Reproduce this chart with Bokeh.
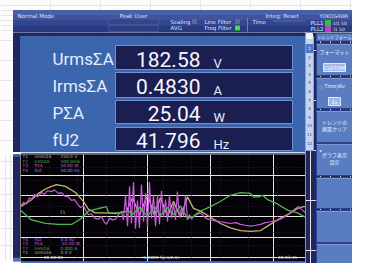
from bokeh.plotting import figure
from bokeh.models import Range1d, FixedTicker, Grid
from bokeh.layouts import row, column
from bokeh.embed import file_html
from bokeh.resources import INLINE
from bokeh.core.properties import value

# ---------------- data ----------------
READ_LABELS = ["UrmsΣA", "IrmsΣA", "PΣA", "fU2"]
READ_VALUES = ["182.58", "0.4830", "25.04", "41.796"]
READ_UNITS = ["V", "A", "W", "Hz"]

TOP_TAGS = ["T1", "T2", "T3", "T4"]
TOP_ITEMS = ["UrmsΣA", "IrmsΣA", "PΣA", "fU2"]
TOP_SCALES = ["250.0 V", "500.0mA", "50.00 W", "50.00 Hz"]
BOT_TAGS = ["T4", "T3", "T2", "T1"]
BOT_ITEMS = ["fU2", "PΣA", "IrmsΣA", "UrmsΣA"]
BOT_SCALES = ["0.0 Hz", "-50.00 W", "0.000 A", "0.0 V"]
TIME_LABELS = ["00:00:00", "<1.0000 Sp:s/2.1>", "00:03:45"]

# trend T1 UrmsΣA (V) vs time (s)
TIME_U = [0, 7.9, 14.2, 19.7, 24.5, 28.4, 35.5, 43.4, 49.7, 53.7, 59.2, 67.1, 75.0, 80.5,
          83.7, 88.4, 93.9, 100.3, 105.8, 110.5, 116.1, 120.8, 126.3, 131.8, 136.6, 142.1,
          150.0, 157.9, 165.8, 173.7, 181.6, 189.5, 195.0, 202.9, 210.8, 218.7, 223.4, 225]
U_VALUES = [124.0, 138.9, 156.0, 166.7, 173.1, 177.4, 173.1, 158.1, 136.8, 117.5, 109.0,
            109.0, 106.9, 111.1, 113.3, 145.3, 104.7, 151.7, 102.6, 145.3, 100.4, 136.8,
            98.3, 147.5, 119.7, 113.3, 98.3, 83.3, 72.7, 66.2, 64.1, 66.2, 76.9, 91.9,
            104.7, 119.7, 124.0, 124.0]

# trend T2 IrmsΣA (A)
TIME_I = [0, 8.7, 19.7, 30.0, 40.3, 47.4, 53.7, 61.6, 67.9, 69.5, 77.4, 85.3, 88.4, 93.9,
          100.3, 105.8, 110.5, 116.1, 120.8, 126.3, 131.8, 136.6, 142.1, 150.0, 157.9,
          165.8, 173.7, 181.6, 183.9, 187.9, 191.1, 195.0, 202.9, 210.8, 218.7, 225]
I_VALUES = [0.231, 0.184, 0.167, 0.162, 0.162, 0.188, 0.227, 0.239, 0.248, 0.218, 0.218,
            0.227, 0.209, 0.244, 0.201, 0.248, 0.205, 0.244, 0.209, 0.252, 0.192, 0.201,
            0.227, 0.248, 0.274, 0.303, 0.316, 0.312, 0.295, 0.295, 0.303, 0.282, 0.261,
            0.231, 0.218, 0.197]

# trend T3 PΣA (W)
TIME_P = [0, 2.4, 4.7, 7.1, 8.7, 11.1, 13.4, 16.6, 18.9, 21.3, 24.5, 26.8, 30.0, 32.4,
          34.7, 37.9, 40.3, 42.6, 45.0, 47.4, 49.7, 52.1, 53.7, 56.1, 58.4, 61.6, 63.9,
          66.3, 67.9, 70.3, 72.6, 75.0, 77.4, 79.7, 81.3, 82.9, 84.5, 86.1, 87.6, 89.2,
          90.8, 92.4, 93.9, 95.5, 97.1, 98.7, 100.3, 101.8, 103.4, 105.0, 106.6, 108.2,
          109.7, 111.3, 112.9, 114.5, 116.1, 117.6, 119.2, 120.8, 122.4, 123.9, 125.5,
          127.1, 128.7, 130.3, 131.8, 133.4, 135.0, 138.2, 142.1, 146.1, 150.0, 153.9,
          157.9, 161.8, 165.8, 169.7, 173.7, 177.6, 181.6, 185.5, 189.5, 193.4, 197.4,
          201.3, 205.3, 209.2, 213.2, 216.3, 219.5, 221.8, 223.4, 225]
P_VALUES = [-0.4, 3.8, 2.1, 8.1, 6.4, 11.5, 9.0, 13.2, 11.5, 15.0, 14.1, 15.8, 12.4, 13.2,
            9.8, 9.0, 5.6, 6.4, 2.1, -1.3, 0.4, -5.6, -8.1, -7.3, -11.5, -12.4, -9.8,
            -15.8, -17.5, -11.5, -13.2, -12.4, -8.1, -5.6, -13.2, 10.7, -19.2, 19.2, -16.7,
            23.5, -21.8, 5.6, -20.9, 20.9, -15.0, 12.4, -20.1, 23.5, -11.5, 10.7, -19.2,
            10.7, -17.5, 15.0, -10.7, 6.4, -15.0, 10.7, -11.5, 2.1, -13.2, 14.1, -10.7,
            -1.3, -9.8, 10.7, -13.2, -8.1, -12.4, -8.1, -6.4, -11.5, -13.2, -14.1, -15.0,
            -15.8, -16.7, -15.8, -17.5, -18.4, -19.2, -18.4, -17.5, -15.8, -15.0, -14.1,
            -12.4, -9.8, -6.4, -3.0, -0.4, -3.0, -4.7, -6.4]

TREND_COLORS = {"T1": "#c8b46c", "T2": "#4cb84c", "T3": "#c65cd8", "T4": "#a88ae0"}

BUTTON_TEXTS = [["フォーマット"], ["Time/div"], ["トレンドの", "画面クリア"], ["グラフ表示", "設定"], [], [], []]
BUTTON_BOXES = ["CUSTOM", "1s"]

# ---------------- styling ----------------
PAPER = "#fcfcfc"
NAVY = "#1f2660"
PANEL = "#3b66ae"
BOX = "#1b1e50"
TXT = "#eef2ff"
LIGHT = "#4a72b8"
BIG = "Roboto"
SMALL = "DejaVu Sans"
JP = "Noto Sans CJK JP"


def canvas(w, h, x0, x1, y0, y1, bg=PAPER):
    p = figure(width=w, height=h, x_range=Range1d(x0, x1), y_range=Range1d(y1, y0),
               toolbar_location=None, output_backend="svg", min_border=0,
               x_axis_location=None, y_axis_location=None,
               background_fill_color=bg, border_fill_color=bg, outline_line_color=None)
    return p


def txt(p, x, y, s, size, color=TXT, font=SMALL, align="left", baseline="middle", **kw):
    p.text(x=[x], y=[y], text=[s], text_font=value(font), text_font_size=value(size),
           text_color=color, text_align=align, text_baseline=baseline, **kw)


# ---------------- header ----------------
head = canvas(352, 32, 0, 352, 0, 32)
bands = [(10, 15, "#4a5faa"), (15, 20, "#3f539e"), (20, 26, "#334690"), (26, 32, "#293a80")]
for t, b, c in bands:
    head.quad(left=13, right=352, top=t, bottom=b, color=c)
head.quad(left=108, right=158, top=18.5, bottom=24, fill_color="#33468a", line_color="#52649e", line_dash="1 1")
head.quad(left=108, right=158, top=25, bottom=31, fill_color="#2d3f82", line_color="#52649e", line_dash="1 1")
head.segment(x0=247, y0=17, x1=247, y1=31, color="#6b7cb8", line_width=1)
head.segment(x0=273, y0=20.5, x1=305, y1=20.5, color="#8090c0", line_width=1, line_dash="1 1")
for s, x, y in [("Normal Mode", 17, 15), ("Peak Over", 119, 15), ("Scaling", 170, 21),
                ("AVG", 170, 27.5), ("Line Filter", 204, 21), ("Freq Filter", 204, 27.5),
                ("Time", 252, 21), ("Integ: Reset", 265, 15), ("PLL1", 310, 22.5),
                ("PLL2", 310, 28.5)]:
    txt(head, x, y, s, "5.5px", color="#dde4fb")
txt(head, 319, 15, "YOKOGAWA", "5px", color="#dde4fb")
head.quad(left=[192, 235, 235], right=[196, 239, 239], top=[19, 19, 25.5], bottom=[23, 23, 29.5],
          color=["#5a6a9a", "#5a6a9a", "#40e040"])
head.quad(left=[325, 325], right=[330, 330], top=[20, 26], bottom=[25, 31], color=["#30c040", "#c040c0"])
txt(head, 333, 22.5, "U1 50", "4.5px", color="#dde4fb")
txt(head, 333, 28.5, "I1 50", "4.5px", color="#dde4fb")

# ---------------- numeric panel ----------------
num = canvas(305, 120, 0, 305, 32, 152)
num.quad(left=13, right=305, top=32, bottom=152, color=NAVY)
num.quad(left=20, right=305, top=36, bottom=152, color=PANEL)
rows_top = [45, 72, 100, 127]
rows_bot = [69, 97, 123, 150]
num.quad(left=115, right=292, top=rows_top, bottom=rows_bot, fill_color=BOX,
         line_color="#6f90d2", line_width=1)
centers = [(t + b) / 2 for t, b in zip(rows_top, rows_bot)]
num.text(x=[52] * 4, y=[c + 1 for c in centers], text=READ_LABELS, text_font=value(BIG),
         text_font_size=value("17px"), text_color="#e6ecfb", text_baseline="middle")
num.text(x=[200] * 4, y=[c + 1.5 for c in centers], text=READ_VALUES, text_font=value(BIG),
         text_font_size=value("21px"), text_color="#f4f6ff", text_baseline="middle", text_align="right")
num.text(x=[213] * 4, y=[c + 5.5 for c in centers], text=READ_UNITS, text_font=value(BIG),
         text_font_size=value("13px"), text_color="#e6ecfb", text_baseline="middle")

# ---------------- left strip ----------------
strip = canvas(20, 111, 0, 20, 152, 279)
strip.quad(left=13, right=20, top=152, bottom=275, color=NAVY)
strip.quad(left=13, right=20, top=152, bottom=154, color=PANEL)
strip.quad(left=13, right=20, top=275, bottom=279, color=LIGHT)

# ---------------- trend ----------------
wave = figure(width=285, height=111, x_range=Range1d(0, 225), y_range=Range1d(-8.55, 250),
              toolbar_location=None, output_backend="svg", min_border=0, min_border_top=2,
              min_border_bottom=2, x_axis_location=None, y_axis_location=None,
              background_fill_color="#050308", border_fill_color=LIGHT, outline_line_color=None)
wave.extra_y_ranges = {"I": Range1d(-0.0171, 0.5), "P": Range1d(-53.42, 50)}
wave.add_layout(Grid(dimension=0, ticker=FixedTicker(ticks=[22.5 * i for i in range(1, 10)]),
                     grid_line_color="#23212d", grid_line_dash="1 2"))
wave.add_layout(Grid(dimension=1, ticker=FixedTicker(ticks=[31.25 * i for i in range(1, 8)]),
                     grid_line_color="#23212d", grid_line_dash="1 2"))
wave.line(TIME_U, U_VALUES, color=TREND_COLORS["T1"], line_width=1.3)
wave.line(TIME_P, P_VALUES, color=TREND_COLORS["T3"], line_width=1.2, y_range_name="P")
wave.line(TIME_I, I_VALUES, color=TREND_COLORS["T2"], line_width=1.3, y_range_name="I")

top_y = [244.5, 233.5, 222.5, 211.5]
bot_y = [45.0, 34.0, 23.0, 12.0]
for tags, items, scales, ys in [(TOP_TAGS, TOP_ITEMS, TOP_SCALES, top_y),
                                (BOT_TAGS, BOT_ITEMS, BOT_SCALES, bot_y)]:
    cols = [TREND_COLORS[t] for t in tags]
    for xx, col in [(1.6, tags), (11.0, items), (31.6, scales)]:
        wave.text(x=[xx] * 4, y=ys, text=col, text_color=cols, text_font=value(SMALL),
                  text_font_size=value("4.3px"), text_baseline="middle")
wave.text(x=[26.0, 110.5, 211.0], y=[1.0] * 3, text=TIME_LABELS, text_color="#d8d8e0",
          text_font=value(SMALL), text_font_size=value("4.3px"), text_baseline="middle",
          text_align="center")
txt(wave, 33.2, 111, "T1", "4.5px", color="#d8cc90", align="center")

# ---------------- right soft keys ----------------
keys = canvas(47, 231, 305, 352, 32, 263, bg=NAVY)
keys.quad(left=305, right=313, top=36, bottom=150, fill_color="#c6d3ef", line_color="#8ea4d8")
keys.quad(left=306, right=312, top=33, bottom=38, color="#f0f4ff")
keys.quad(left=305.5, right=312.5, top=44, bottom=52, color="#4f78c8")
keys.text(x=[309] * 12, y=[48 + 8.6 * i for i in range(12)], text=[str(i + 1) for i in range(12)],
          text_color=["#ffffff"] + ["#2c3d80"] * 11, text_font=value(SMALL),
          text_font_size=value("4px"), text_align="center", text_baseline="middle")
keys.quad(left=316, right=356, top=33, bottom=40.5, fill_color="#5a7cc4", line_color="#3a4f95")
txt(keys, 334, 36.8, "トレンドフォーム", "4.3px", font=JP, align="center")
btn_top = [43, 77, 110, 143, 177, 210, 243]
btn_bot = [75, 108, 142, 175, 208, 242, 274]
keys.quad(left=316, right=356, top=btn_top, bottom=btn_bot, fill_color="#5a7dc2",
          line_color="#2f438a", line_width=1)
keys.segment(x0=[316] * 7, y0=[t + 1 for t in btn_top], x1=[352] * 7, y1=[t + 1 for t in btn_top],
             color="#7d98d4", line_width=1)
for i, lines in enumerate(BUTTON_TEXTS):
    for j, s in enumerate(lines):
        yy = btn_top[i] + (8 if i < 2 else 11) + j * 7
        txt(keys, 334, yy, s, "5px", font=JP, align="center")
keys.quad(left=[323, 328], right=[345, 340], top=[63, 97], bottom=[71, 105], fill_color="#9fb8ea",
          line_color="#e0e8ff")
keys.text(x=[334, 334], y=[67, 101], text=BUTTON_BOXES, text_color="#ffffff", text_font=value(SMALL),
          text_font_size=value("5px"), text_align="center", text_baseline="middle")
txt(keys, 320, 150, "•", "6px", align="center")
txt(keys, 320, 86, "◁", "5px", align="center", text_alpha=0.6)

layout = column(head, row(column(num, row(strip, wave)), keys))
open("out.html", "w").write(file_html(layout, INLINE))
